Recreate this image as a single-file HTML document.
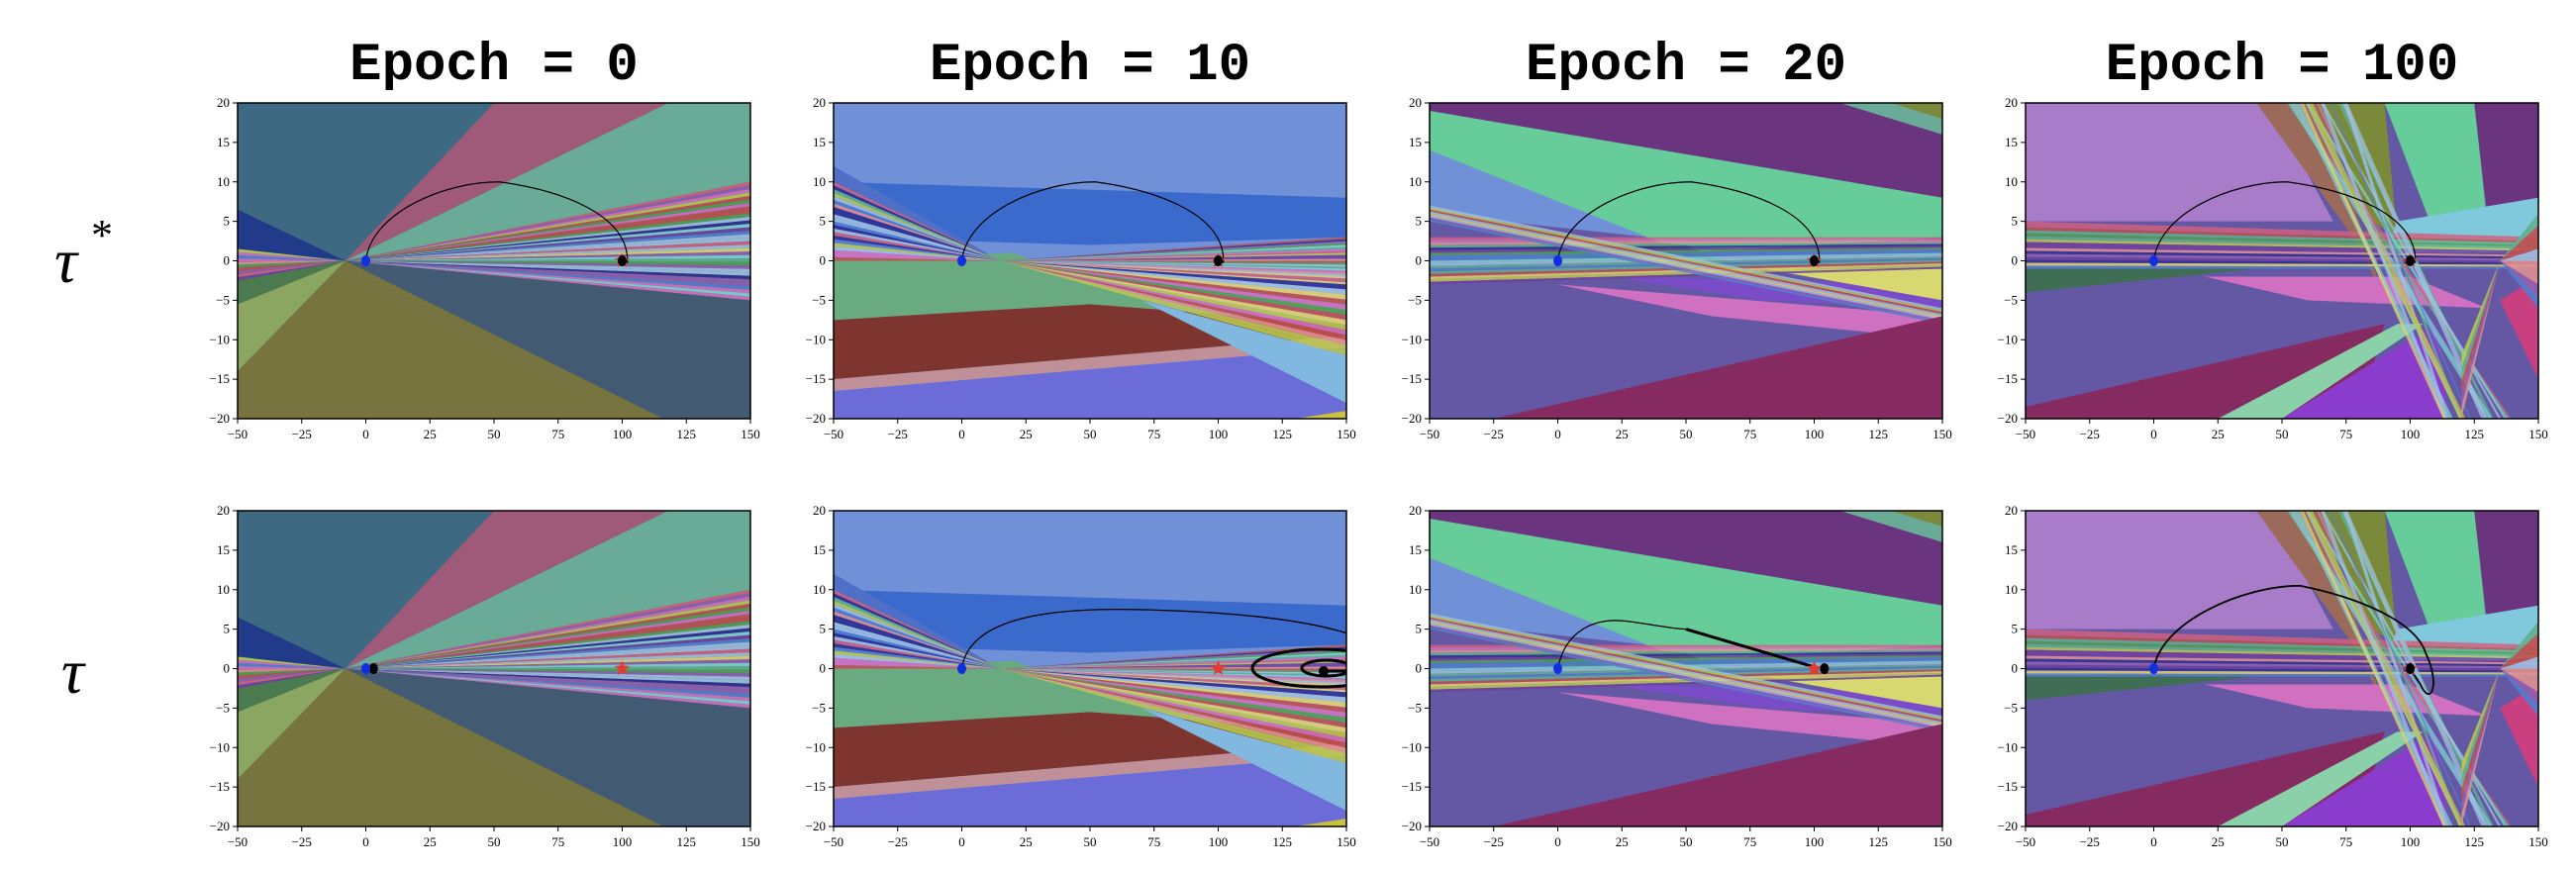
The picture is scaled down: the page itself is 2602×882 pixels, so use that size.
<!DOCTYPE html>
<html><head><meta charset="utf-8">
<style>
html,body{margin:0;padding:0;background:#fff;}
svg{display:block;}
.tk{font-family:"Liberation Serif",serif;font-size:13px;fill:#000;}
.ti{font-family:"Liberation Mono",monospace;font-size:54px;font-weight:bold;fill:#000;}
.rl{font-family:"Liberation Serif",serif;font-style:italic;font-size:64px;fill:#000;}
</style></head>
<body>
<svg id="root" width="2602" height="882" xmlns="http://www.w3.org/2000/svg">
<defs>
<clipPath id="c"><rect x="0" y="0" width="518" height="319"/></clipPath>
</defs>
<text class="ti" x="499" y="80" text-anchor="middle">Epoch = 0</text>
<text class="ti" x="1101" y="80" text-anchor="middle">Epoch = 10</text>
<text class="ti" x="1703" y="80" text-anchor="middle">Epoch = 20</text>
<text class="ti" x="2305" y="80" text-anchor="middle">Epoch = 100</text>
<text class="rl" x="55" y="285">τ</text><text x="92" y="252" style="font-family:'Liberation Serif',serif;font-size:44px">*</text>
<text class="rl" x="62" y="700">τ</text>
</svg>
<script>
(function(){
var NS="http://www.w3.org/2000/svg";
var root=document.getElementById('root');
var lefts=[240,842,1444,2046], tops=[104,516], W=518, H=319;
var seed=7;function rnd(){seed=(seed*16807)%2147483647;return seed/2147483647;}
var pal=["#d06080","#60b090","#b8c850","#7040a0","#d070c0","#5080d0","#e0d070","#50a050","#303090","#a0c0e0","#c05050","#80d0d0","#9060b0","#e09090"];
function el(t,a,p){var e=document.createElementNS(NS,t);for(var k in a)e.setAttribute(k,a[k]);(p||root).appendChild(e);return e;}
function px(l,x){return l+(x+50)/200*W;} function py(t,y){return t+(20-y)/40*H;}
function poly(g,pts,col,op){el('polygon',{points:pts.map(function(p){return p[0]+','+p[1];}).join(' '),fill:col,'fill-opacity':op||1},g);}
function fan(g,ox,oy,x2,y1,y2,n){for(var i=0;i<n;i++){var a=y1+(y2-y1)*i/n,b=y1+(y2-y1)*(i+1)/n;poly(g,[[ox,oy],[x2,a],[x2,b]],pal[Math.floor(rnd()*pal.length)],0.9);}}
function band(g,xa,ya1,ya2,xb,yb1,yb2,n){for(var i=0;i<n;i++){var f0=i/n,f1=(i+1)/n;poly(g,[[xa,ya1+(ya2-ya1)*f0],[xb,yb1+(yb2-yb1)*f0],[xb,yb1+(yb2-yb1)*f1],[xa,ya1+(ya2-ya1)*f1]],pal[Math.floor(rnd()*pal.length)],0.85);}}
function panel(col,row){
 var l=lefts[col],t=tops[row];
 var s=el('svg',{x:l,y:t,width:W,height:H,viewBox:"-50 -20 200 40",preserveAspectRatio:"none"});
 var g=el('g',{transform:"scale(1,-1)"},s);
 if(col==0){
  poly(g,[[-50,-20],[150,-20],[150,20],[-50,20]],"#425b73");
  poly(g,[[-50,20],[50,20],[-8,0],[-50,0]],"#3d6a82");
  poly(g,[[-50,6.5],[-8,0],[-50,1.5]],"#223a8a");
  poly(g,[[50,20],[118,20],[-8,0]],"#9e5a78");
  poly(g,[[118,20],[150,20],[150,10],[-8,0]],"#6aab98");
  fan(g,-8,0,150,10,-5,34);
  fan(g,-8,0,-50,1.5,-2.5,10);
  poly(g,[[-50,-2.5],[-8,0],[-50,-5.5]],"#4a7a4e");
  poly(g,[[-50,-5.5],[-8,0],[-50,-14]],"#8aa660");
  poly(g,[[-50,-14],[-8,0],[116,-20],[-50,-20]],"#78743f");
 } else if(col==1){
  poly(g,[[-50,-20],[150,-20],[150,20],[-50,20]],"#7090d8");
  poly(g,[[-50,10],[150,8],[150,3],[50,2],[-50,3]],"#3a6acc");
  poly(g,[[-50,12],[15,0],[-50,10]],"#5070c8");
  poly(g,[[-50,0],[20,1],[80,-6],[-50,-7.5]],"#6aaa80");
  poly(g,[[-50,-7.5],[50,-5.5],[150,-8],[150,-9.5],[-50,-15]],"#7e3530");
  poly(g,[[-50,-15],[150,-9.5],[150,-11],[-50,-16.5]],"#c09098");
  poly(g,[[-50,-16.5],[150,-11],[150,-20],[-50,-20]],"#6c6cd8");
  poly(g,[[70,-5],[150,-12],[150,-18]],"#80b8e0");
  fan(g,15,0,-50,10,0,22);
  fan(g,15,0,150,3,-3,24);
  fan(g,15,0,150,-3,-12,14);
  poly(g,[[150,-19],[130,-20],[150,-20]],"#c8c040");
 } else if(col==2){
  poly(g,[[-50,-20],[150,-20],[150,20],[-50,20]],"#6458a4");
  poly(g,[[-50,20],[150,20],[150,8],[-50,19]],"#6a357e");
  poly(g,[[-50,19],[150,8],[150,3],[50,1],[-50,14]],"#66cc99");
  poly(g,[[-50,14],[35,3],[-50,6]],"#7090d8");
  poly(g,[[110,20],[150,20],[150,16]],"#6aab98");
  poly(g,[[130,20],[150,20],[150,18]],"#7a8a3a");
  poly(g,[[-25,4],[50,2],[70,-1],[0,0]],"#3f6e55");
  poly(g,[[20,-2],[150,-3],[150,-6],[80,-5]],"#7a4cc8");
  poly(g,[[0,-3],[150,-7],[150,-10],[60,-7]],"#d070c0");
  poly(g,[[80,-1],[150,-1],[150,-5]],"#d8d870");
  band(g,-50,3,-3,150,3,-1,18);
  band(g,-50,7,5,150,-6,-8,8);
  poly(g,[[-25,-20],[150,-7],[150,-20]],"#862a62");
 } else {
  poly(g,[[-50,-20],[150,-20],[150,20],[-50,20]],"#6458a4");
  poly(g,[[-50,20],[45,20],[70,5],[-50,5]],"#a87cc8");
  poly(g,[[40,20],[65,20],[90,-5],[80,2]],"#9c6a5a");
  poly(g,[[65,20],[90,20],[95,3],[85,5]],"#7a8a3a");
  poly(g,[[90,20],[125,20],[130,5],[110,3]],"#66cc99");
  poly(g,[[125,20],[150,20],[150,7],[130,6]],"#6a357e");
  poly(g,[[95,5],[150,8],[150,1],[90,1]],"#80c8dc");
  band(g,-50,5,-1,150,3,-1,16);
  poly(g,[[-50,-1],[40,-1],[-50,-4]],"#3f6e55");
  poly(g,[[20,-2],[100,-2],[130,-6],[60,-5]],"#d070c0");
  poly(g,[[-50,-18.5],[90,-8],[80,-20],[-50,-20]],"#862a62");
  poly(g,[[25,-20],[95,-8],[105,-8],[50,-20]],"#8ad0a8");
  poly(g,[[50,-20],[110,-8],[115,-20]],"#8a3ccc");
  poly(g,[[135,-5],[150,-2],[150,-15]],"#c84080");
  for(var i=0;i<16;i++){var xt=50+rnd()*25,w=0.5+rnd()*2.5;var xb=112+rnd()*30;
   poly(g,[[xt,20],[xt+w,20],[xb+w,-20],[xb,-20]],pal[Math.floor(rnd()*pal.length)],0.75);}
  fan(g,135,0,150,6,-6,8);
  fan(g,135,0,120,-20,-12,5);
 }
 var tg=el('g',{transform:"translate("+l+","+t+")","clip-path":"url(#c)"});
 function X(x){return (x+50)/200*W;} function Y(y){return (20-y)/40*H;}
 function path(d,w){el('path',{d:d,fill:"none",stroke:"#000","stroke-width":w},tg);}
 var arc1="M"+X(0)+","+Y(0)+" C"+X(2)+","+Y(6)+" "+X(30)+","+Y(10)+" "+X(52)+","+Y(10)+" C"+X(75)+","+Y(9)+" "+X(103)+","+Y(6)+" "+X(102)+","+Y(-0.3);
 var star=function(x,y){var pts=[];for(var i=0;i<10;i++){var r=i%2?3.5:8,a=-Math.PI/2+i*Math.PI/5;pts.push((X(x)+r*Math.cos(a))+","+(Y(y)+r*Math.sin(a)));}el('polygon',{points:pts.join(' '),fill:"#e8392e"},tg);};
 var dot=function(x,y,c){el('ellipse',{cx:X(x),cy:Y(y),rx:4.5,ry:5.5,fill:c},tg);};
 if(row==0){
  path(arc1,1.2); star(100,0); dot(100,0,"#000"); dot(0,0,"#1030e0");
 } else {
  if(col==0){star(100,0);dot(3,0,"#000");dot(0,0,"#1030e0");}
  if(col==1){
   path("M"+X(0)+","+Y(0)+" C"+X(3)+","+Y(7)+" "+X(40)+","+Y(7.6)+" "+X(65)+","+Y(7.5)+" C"+X(100)+","+Y(7.3)+" "+X(130)+","+Y(6.5)+" "+X(150)+","+Y(4.5),1.3);
   el('ellipse',{cx:492,cy:159,rx:69,ry:19,fill:"none",stroke:"#000","stroke-width":3},tg);
   el('ellipse',{cx:498,cy:159,rx:25,ry:8,fill:"none",stroke:"#000","stroke-width":3},tg);
   path("M495,162 L520,162",3);
   star(100,0); el('circle',{cx:495,cy:162,r:5,fill:"#000"},tg); dot(0,0,"#1030e0");
  }
  if(col==2){
   path("M"+X(0)+","+Y(0)+" C"+X(3)+","+Y(5)+" "+X(15)+","+Y(6.5)+" "+X(27)+","+Y(6)+" C"+X(35)+","+Y(5.7)+" "+X(45)+","+Y(5)+" "+X(50)+","+Y(5),1.2);
   path("M"+X(50)+","+Y(5)+" L"+X(99)+","+Y(0.3),3);
   star(100,0);dot(104,0,"#000");dot(0,0,"#1030e0");
  }
  if(col==3){
   path("M"+X(0)+","+Y(0)+" C"+X(3)+","+Y(6)+" "+X(35)+","+Y(10.5)+" "+X(57)+","+Y(10.5)+" C"+X(80)+","+Y(9)+" "+X(102)+","+Y(6)+" "+X(106)+","+Y(2)+" C"+X(112)+","+Y(-2)+" "+X(108)+","+Y(-5)+" "+X(104)+","+Y(-2)+" L"+X(100)+","+Y(0),1.8);
   star(100,0);dot(100,0,"#000");dot(0,0,"#1030e0");
  }
 }
 el('rect',{x:l,y:t,width:W,height:H,fill:"none",stroke:"#000","stroke-width":1.5});
 for(var xv=-50;xv<=150;xv+=25){var xx=px(l,xv);el('line',{x1:xx,x2:xx,y1:t+H,y2:t+H+5,stroke:"#000","stroke-width":1});
  var tx=el('text',{x:xx,y:t+H+20,'text-anchor':'middle','class':'tk'});tx.textContent=(xv<0?"\u2212"+(-xv):xv);}
 for(var yv=-20;yv<=20;yv+=5){var yy=py(t,yv);el('line',{x1:l-5,x2:l,y1:yy,y2:yy,stroke:"#000","stroke-width":1});
  var ty=el('text',{x:l-8,y:yy+4,'text-anchor':'end','class':'tk'});ty.textContent=(yv<0?"\u2212"+(-yv):yv);}
}
for(var r=0;r<2;r++)for(var c=0;c<4;c++){seed=7+c*13;panel(c,r);}
})();
</script>
</body></html>
